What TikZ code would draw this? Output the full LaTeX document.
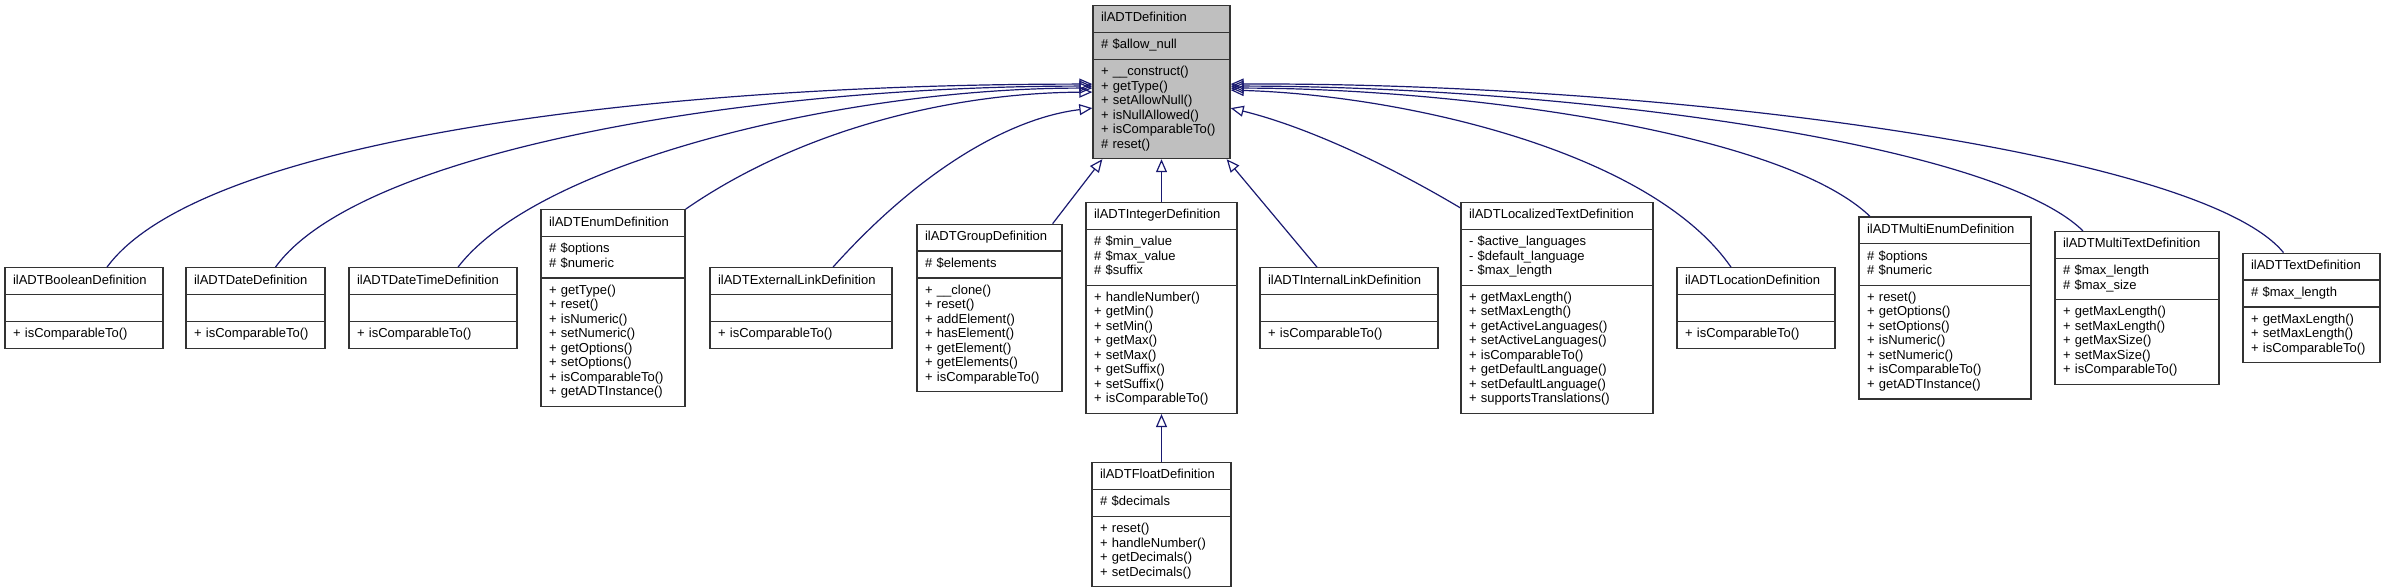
\documentclass[tikz,border=0pt]{standalone}
\usepackage{fontspec}
\setmainfont{Liberation Sans}
\usetikzlibrary{shapes.multipart,arrows.meta}
\definecolor{edgeblue}{HTML}{191970}
\definecolor{basegray}{HTML}{BFBFBF}
\tikzset{
  cls/.style={draw=black!80,line width=1.3pt,rectangle split,rectangle split parts=3,
    inner xsep=8pt,inner ysep=5.5pt,font=\fontsize{13}{14.5}\selectfont,anchor=center},
  inherit/.style={draw=edgeblue,line width=1.2pt,-{Triangle[open,length=13pt,width=11pt]}}
}
\begin{document}
\begin{tikzpicture}[x=1pt,y=-1pt]
    \useasboundingbox (0,0) rectangle (2386,588);

    % Base class
    \node[cls,fill=basegray,anchor=north,text width=121pt] (base) at (1161.5,5)
      {\centering\strut ilADTDefinition\strut
       \nodepart{two}\raggedright\strut\#\ \$allow\_null\strut
       \nodepart{three}\raggedright\strut + \_\_construct()\\+ getType()\\+ setAllowNull()\\+ isNullAllowed()\\+ isComparableTo()\\\# reset()\strut};

    % Derived classes
    \node[cls,text width=142pt] (bool) at (84,308)
      {\centering\strut ilADTBooleanDefinition\strut
       \nodepart{two}\strut
       \nodepart{three}\raggedright\strut + isComparableTo()\strut};
    \node[cls,text width=123pt] (date) at (255.5,308)
      {\centering\strut ilADTDateDefinition\strut
       \nodepart{two}\strut
       \nodepart{three}\raggedright\strut + isComparableTo()\strut};
    \node[cls,text width=152pt] (datetime) at (433,308)
      {\centering\strut ilADTDateTimeDefinition\strut
       \nodepart{two}\strut
       \nodepart{three}\raggedright\strut + isComparableTo()\strut};
    \node[cls,text width=128pt] (enum) at (613,308)
      {\centering\strut ilADTEnumDefinition\strut
       \nodepart{two}\raggedright\strut\# \$options\\\# \$numeric\strut
       \nodepart{three}\raggedright\strut + getType()\\+ reset()\\+ isNumeric()\\+ setNumeric()\\+ getOptions()\\+ setOptions()\\+ isComparableTo()\\+ getADTInstance()\strut};
    \node[cls,text width=166pt] (extlink) at (801,308)
      {\centering\strut ilADTExternalLinkDefinition\strut
       \nodepart{two}\strut
       \nodepart{three}\raggedright\strut + isComparableTo()\strut};
    \node[cls,text width=129pt] (group) at (989.5,308)
      {\centering\strut ilADTGroupDefinition\strut
       \nodepart{two}\raggedright\strut\# \$elements\strut
       \nodepart{three}\raggedright\strut + \_\_clone()\\+ reset()\\+ addElement()\\+ hasElement()\\+ getElement()\\+ getElements()\\+ isComparableTo()\strut};
    \node[cls,text width=135pt] (integer) at (1161.5,308)
      {\centering\strut ilADTIntegerDefinition\strut
       \nodepart{two}\raggedright\strut\# \$min\_value\\\# \$max\_value\\\# \$suffix\strut
       \nodepart{three}\raggedright\strut + handleNumber()\\+ getMin()\\+ setMin()\\+ getMax()\\+ setMax()\\+ getSuffix()\\+ setSuffix()\\+ isComparableTo()\strut};
    \node[cls,text width=162pt] (intlink) at (1349,308)
      {\centering\strut ilADTInternalLinkDefinition\strut
       \nodepart{two}\strut
       \nodepart{three}\raggedright\strut + isComparableTo()\strut};
    \node[cls,text width=176pt] (loctext) at (1557,308)
      {\centering\strut ilADTLocalizedTextDefinition\strut
       \nodepart{two}\raggedright\strut - \$active\_languages\\- \$default\_language\\- \$max\_length\strut
       \nodepart{three}\raggedright\strut + getMaxLength()\\+ setMaxLength()\\+ getActiveLanguages()\\+ setActiveLanguages()\\+ isComparableTo()\\+ getDefaultLanguage()\\+ setDefaultLanguage()\\+ supportsTranslations()\strut};
    \node[cls,text width=142pt] (location) at (1756,308)
      {\centering\strut ilADTLocationDefinition\strut
       \nodepart{two}\strut
       \nodepart{three}\raggedright\strut + isComparableTo()\strut};
    \node[cls,text width=156pt] (multienum) at (1945,308)
      {\centering\strut ilADTMultiEnumDefinition\strut
       \nodepart{two}\raggedright\strut\# \$options\\\# \$numeric\strut
       \nodepart{three}\raggedright\strut + reset()\\+ getOptions()\\+ setOptions()\\+ isNumeric()\\+ setNumeric()\\+ isComparableTo()\\+ getADTInstance()\strut};
    \node[cls,text width=148pt] (multitext) at (2137,308)
      {\centering\strut ilADTMultiTextDefinition\strut
       \nodepart{two}\raggedright\strut\# \$max\_length\\\# \$max\_size\strut
       \nodepart{three}\raggedright\strut + getMaxLength()\\+ setMaxLength()\\+ getMaxSize()\\+ setMaxSize()\\+ isComparableTo()\strut};
    \node[cls,text width=121pt] (text) at (2311.5,308)
      {\centering\strut ilADTTextDefinition\strut
       \nodepart{two}\raggedright\strut\# \$max\_length\strut
       \nodepart{three}\raggedright\strut + getMaxLength()\\+ setMaxLength()\\+ isComparableTo()\strut};
    \node[cls,anchor=north,text width=123pt] (float) at (1161.5,462)
      {\centering\strut ilADTFloatDefinition\strut
       \nodepart{two}\raggedright\strut\# \$decimals\strut
       \nodepart{three}\raggedright\strut + reset()\\+ handleNumber()\\+ getDecimals()\\+ setDecimals()\strut};

    % Inheritance edges
    \draw[inherit] ([xshift=23pt]bool.north) .. controls (200,140) and (650,84) .. ([yshift=-2pt]base.west);
    \draw[inherit] ([xshift=20pt]date.north) .. controls (360,150) and (750,86) .. ([yshift=-4pt]base.west);
    \draw[inherit] ([xshift=25pt]datetime.north) .. controls (540,160) and (850,88) .. ([yshift=-6pt]base.west);
    \draw[inherit] (enum.north east) .. controls (800,130) and (950,93) .. ([yshift=-10pt]base.west);
    \draw[inherit] ([xshift=32pt]extlink.north) .. controls (920,170) and (1010,118) .. ([yshift=-26pt]base.west);
    \draw[inherit] ([xshift=-10pt]group.north east) -- ([xshift=10pt]base.south west);
    \draw[inherit] (integer.north) -- (base.south);
    \draw[inherit] ([xshift=-32pt]intlink.north) -- ([xshift=-4pt]base.south east);
    \draw[inherit] ([yshift=-6pt]loctext.north west) .. controls (1380,160) and (1300,125) .. ([yshift=-26pt]base.east);
    \draw[inherit] ([xshift=-25pt]location.north) .. controls (1650,150) and (1400,95) .. ([yshift=-8pt]base.east);
    \draw[inherit] ([xshift=-75pt]multienum.north) .. controls (1780,130) and (1450,88) .. ([yshift=-6pt]base.east);
    \draw[inherit] ([xshift=-54pt]multitext.north) .. controls (1990,140) and (1550,86) .. ([yshift=-4pt]base.east);
    \draw[inherit] ([xshift=-28pt]text.north) .. controls (2200,150) and (1650,82) .. ([yshift=-2pt]base.east);
    \draw[inherit] (float.north) -- (integer.south);
\end{tikzpicture}
\end{document}
